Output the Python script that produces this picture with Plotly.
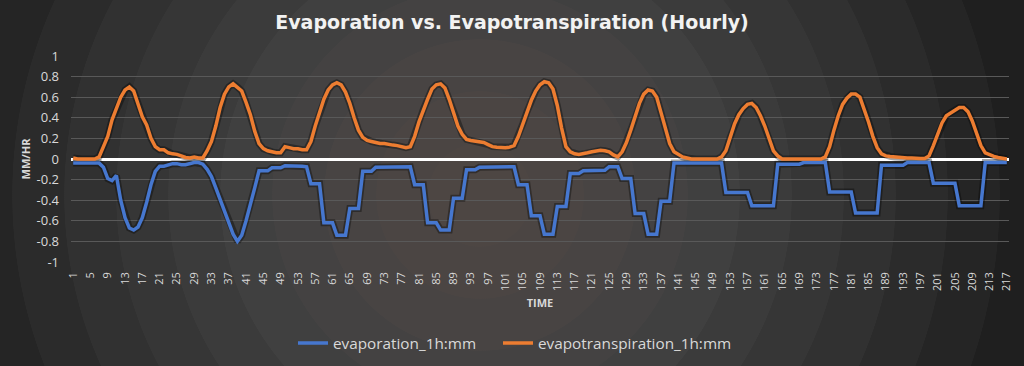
import base64
import plotly.graph_objects as go

# ---------------- data ----------------
hours = list(range(1, 218))

evaporation = [
    -0.04, -0.04, -0.04, -0.04, -0.04, -0.04, -0.04, -0.08, -0.19, -0.21, -0.16, -0.40,
    -0.57, -0.67, -0.69, -0.66, -0.57, -0.42, -0.25, -0.12, -0.07, -0.07, -0.06, -0.045,
    -0.045, -0.055, -0.055, -0.045, -0.035, -0.035, -0.05, -0.10, -0.17, -0.28, -0.39, -0.50,
    -0.61, -0.73, -0.80, -0.74, -0.60, -0.45, -0.28, -0.115, -0.115, -0.115, -0.085, -0.085,
    -0.085, -0.065, -0.065, -0.065, -0.07, -0.07, -0.075, -0.24, -0.24, -0.24, -0.62, -0.62,
    -0.62, -0.74, -0.74, -0.74, -0.48, -0.48, -0.48, -0.12, -0.12, -0.12, -0.08, -0.08,
    -0.08, -0.075, -0.075, -0.075, -0.075, -0.075, -0.075, -0.25, -0.25, -0.25, -0.62, -0.62,
    -0.62, -0.69, -0.69, -0.69, -0.38, -0.38, -0.38, -0.105, -0.105, -0.105, -0.08, -0.08,
    -0.08, -0.075, -0.075, -0.075, -0.075, -0.075, -0.075, -0.25, -0.25, -0.25, -0.55, -0.55,
    -0.55, -0.73, -0.73, -0.73, -0.46, -0.46, -0.46, -0.14, -0.14, -0.14, -0.115, -0.115,
    -0.115, -0.11, -0.11, -0.11, -0.075, -0.075, -0.075, -0.19, -0.19, -0.19, -0.53, -0.53,
    -0.53, -0.73, -0.73, -0.73, -0.41, -0.41, -0.41, -0.04, -0.04, -0.04, -0.04, -0.04,
    -0.04, -0.04, -0.04, -0.04, -0.04, -0.04, -0.04, -0.325, -0.325, -0.325, -0.325, -0.325,
    -0.325, -0.455, -0.455, -0.455, -0.455, -0.455, -0.455, -0.05, -0.05, -0.05, -0.05, -0.05,
    -0.05, -0.035, -0.035, -0.035, -0.035, -0.035, -0.035, -0.32, -0.32, -0.32, -0.32, -0.32,
    -0.32, -0.525, -0.525, -0.525, -0.525, -0.525, -0.525, -0.06, -0.06, -0.06, -0.06, -0.06,
    -0.06, -0.035, -0.035, -0.035, -0.035, -0.035, -0.035, -0.235, -0.235, -0.235, -0.235, -0.235,
    -0.235, -0.455, -0.455, -0.455, -0.455, -0.455, -0.455, -0.035, -0.035, -0.035, -0.035, -0.035,
    -0.035,
]

evapotranspiration = [
    0.01, 0.0, 0.0, 0.0, 0.0, 0.0, 0.02, 0.12, 0.22, 0.38, 0.48, 0.60,
    0.67, 0.70, 0.66, 0.54, 0.41, 0.33, 0.20, 0.12, 0.09, 0.09, 0.06, 0.05,
    0.045, 0.03, 0.015, 0.01, 0.02, 0.01, 0.01, 0.08, 0.17, 0.32, 0.50, 0.63,
    0.70, 0.73, 0.70, 0.66, 0.55, 0.43, 0.27, 0.15, 0.10, 0.08, 0.07, 0.06,
    0.06, 0.12, 0.11, 0.10, 0.10, 0.09, 0.09, 0.17, 0.32, 0.45, 0.58, 0.67,
    0.72, 0.74, 0.72, 0.65, 0.54, 0.40, 0.28, 0.21, 0.18, 0.17, 0.16, 0.15,
    0.15, 0.14, 0.135, 0.13, 0.12, 0.11, 0.12, 0.22, 0.36, 0.48, 0.58, 0.68,
    0.72, 0.73, 0.69, 0.58, 0.44, 0.32, 0.24, 0.19, 0.18, 0.175, 0.17, 0.16,
    0.14, 0.12, 0.115, 0.11, 0.11, 0.115, 0.13, 0.22, 0.34, 0.46, 0.57, 0.66,
    0.72, 0.75, 0.74, 0.68, 0.52, 0.30, 0.12, 0.07, 0.05, 0.045, 0.05, 0.06,
    0.07, 0.08, 0.085, 0.08, 0.07, 0.04, 0.02, 0.07, 0.16, 0.28, 0.40, 0.54,
    0.63, 0.67, 0.66, 0.60, 0.45, 0.30, 0.15, 0.07, 0.04, 0.02, 0.01, 0.0,
    0.0, 0.0, 0.0, 0.0, 0.0, 0.0, 0.02, 0.08, 0.21, 0.34, 0.43, 0.49,
    0.53, 0.54, 0.50, 0.42, 0.32, 0.20, 0.08, 0.03, 0.0, 0.0, 0.0, 0.0,
    0.0, 0.0, 0.0, 0.0, 0.0, 0.0, 0.02, 0.12, 0.28, 0.42, 0.53, 0.59,
    0.63, 0.63, 0.60, 0.49, 0.36, 0.22, 0.11, 0.05, 0.03, 0.025, 0.02, 0.02,
    0.015, 0.01, 0.01, 0.005, 0.005, 0.005, 0.03, 0.13, 0.25, 0.35, 0.42, 0.45,
    0.47, 0.50, 0.50, 0.46, 0.37, 0.24, 0.13, 0.06, 0.04, 0.025, 0.015, 0.005,
    0.0,
]

x_tick_values = list(range(1, 218, 4))
x_tick_labels = [str(v) for v in x_tick_values]
y_tick_values = [1, 0.8, 0.6, 0.4, 0.2, 0, -0.2, -0.4, -0.6, -0.8, -1]
y_tick_labels = ["1", "0.8", "0.6", "0.4", "0.2", "0", "-0.2", "-0.4", "-0.6", "-0.8", "-1"]

series_names = ["evaporation_1h:mm", "evapotranspiration_1h:mm"]
title_text = "Evaporation vs. Evapotranspiration (Hourly)"

assert len(evaporation) == len(hours) == len(evapotranspiration)

# ---------------- styling ----------------
W, H = 1024, 366
ML, MR, MT, MB = 71, 15, 56, 104
BLUE = "#4677cf"
ORANGE = "#ed7d31"
TEXT = "#d9d9d9"
FONT = "Open Sans"

# banded radial gradient background (as SVG)
stops = [
    (0.00, "#4d4643"), (0.10, "#4b4543"), (0.20, "#484443"), (0.30, "#444242"),
    (0.40, "#404040"), (0.50, "#3b3b3b"), (0.60, "#363636"), (0.70, "#313131"),
    (0.80, "#2b2b2b"), (0.90, "#252525"), (1.00, "#1f1f1f"),
]
stop_xml = ""
for k in range(len(stops) - 1):
    o0, c0 = stops[k]
    o1, _ = stops[k + 1]
    stop_xml += f'<stop offset="{o0}" stop-color="{c0}"/><stop offset="{o1 - 0.001}" stop-color="{c0}"/>'
stop_xml += f'<stop offset="1" stop-color="{stops[-1][1]}"/>'
svg = (
    f'<svg xmlns="http://www.w3.org/2000/svg" width="{W}" height="{H}" viewBox="0 0 {W} {H}">'
    f'<defs><radialGradient id="g" gradientUnits="userSpaceOnUse" cx="480" cy="195" r="520">'
    f'{stop_xml}</radialGradient></defs>'
    f'<rect width="{W}" height="{H}" fill="url(#g)"/></svg>'
)
svg_uri = "data:image/svg+xml;base64," + base64.b64encode(svg.encode()).decode()

pw, ph = W - ML - MR, H - MT - MB

fig = go.Figure()

# soft shadows under the lines
for ys in (evaporation, evapotranspiration):
    fig.add_trace(go.Scatter(
        x=hours, y=ys, mode="lines", showlegend=False, hoverinfo="skip",
        line=dict(color="rgba(0,0,0,0.35)", width=7),
    ))

fig.add_trace(go.Scatter(
    x=hours, y=evaporation, mode="lines", name=series_names[0], legend="legend",
    line=dict(color=BLUE, width=3.5),
))
fig.add_trace(go.Scatter(
    x=hours, y=evapotranspiration, mode="lines", name=series_names[1], legend="legend2",
    line=dict(color=ORANGE, width=3.5),
))

legend_common = dict(
    orientation="h", xref="container", yref="container", xanchor="left",
    y=(H - 343) / H, yanchor="middle", font=dict(size=15.3, color=TEXT),
    bgcolor="rgba(0,0,0,0)", itemwidth=30,
)

fig.update_layout(
    width=W, height=H,
    margin=dict(l=ML, r=MR, t=MT, b=MB, pad=0),
    paper_bgcolor="#2a2a2a",
    plot_bgcolor="rgba(0,0,0,0)",
    font=dict(family=FONT, color=TEXT, size=12),
    title=dict(
        text=title_text, x=0.5, xanchor="center", xref="container",
        y=(H - 22) / H, yanchor="middle", yref="container",
        font=dict(family="DejaVu Sans", size=19, color="#f2f2f2", weight="bold"),
    ),
    images=[dict(
        source=svg_uri, xref="paper", yref="paper",
        x=-ML / pw, y=1 + MT / ph, sizex=W / pw, sizey=H / ph,
        sizing="stretch", xanchor="left", yanchor="top", layer="below",
    )],
    xaxis=dict(
        range=[0.5, 217.5], tickmode="array", tickvals=x_tick_values, ticktext=x_tick_labels,
        tickangle=-90, tickfont=dict(size=11, color=TEXT), showgrid=False, zeroline=False,
        showline=False, ticks="", ticklabelstandoff=7,
        title=dict(text="<b>TIME</b>", font=dict(size=11, color=TEXT), standoff=9),
    ),
    yaxis=dict(
        range=[-1, 1], tickmode="array", tickvals=y_tick_values, ticktext=y_tick_labels,
        tickfont=dict(size=13, color=TEXT), showgrid=True, gridcolor="#595959", gridwidth=1,
        zeroline=True, zerolinecolor="#ffffff", zerolinewidth=3, showline=False, ticks="",
        ticklabelstandoff=11,
        title=dict(text="<b>MM/HR</b>", font=dict(size=11, color=TEXT), standoff=3),
    ),
    legend=dict(legend_common, x=293 / W),
    legend2=dict(legend_common, x=498 / W),
    showlegend=True,
)

fig.write_html("out.html", config={"displayModeBar": False},
               post_script="document.body.style.margin='0';")
